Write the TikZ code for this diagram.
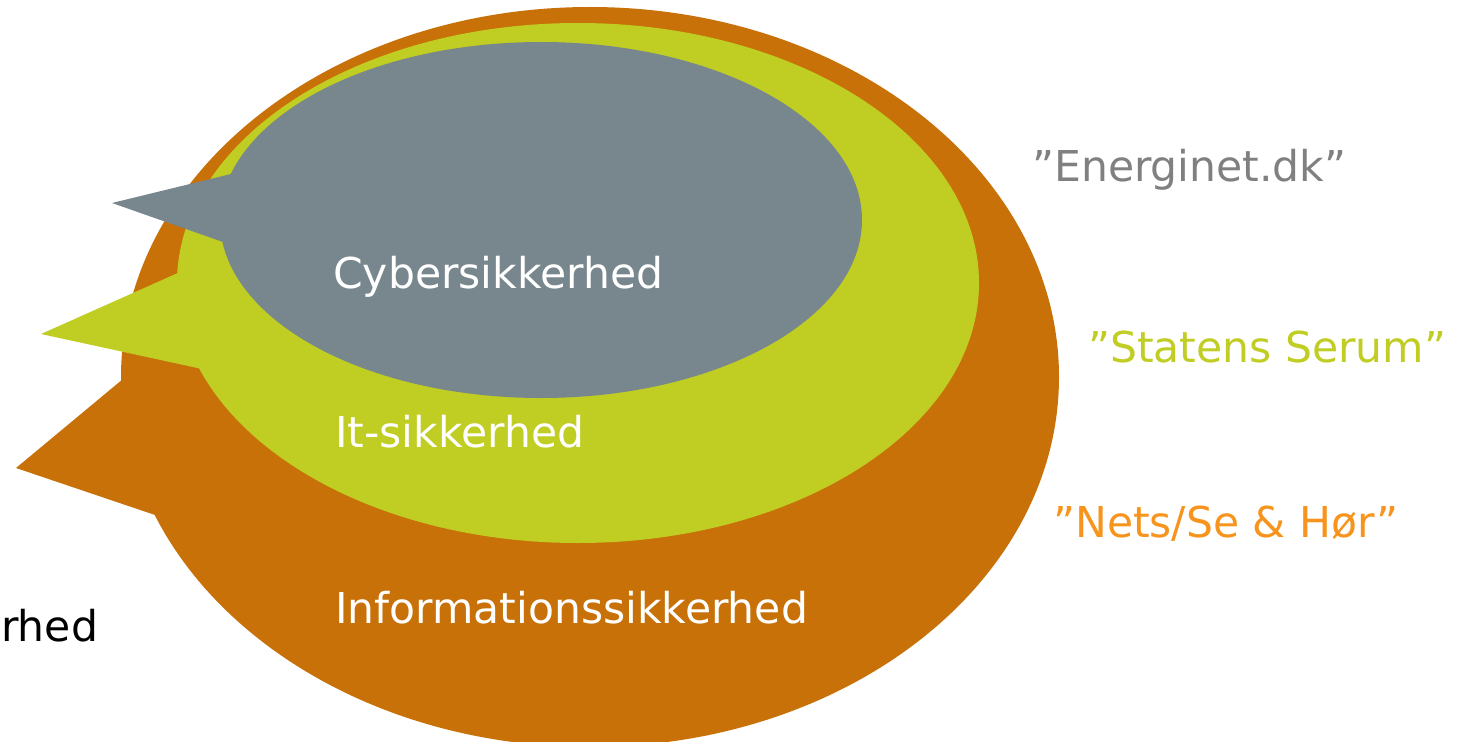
\documentclass[tikz,border=0pt]{standalone}
\usepackage{fontspec}
\setmainfont{DejaVu Sans}
\definecolor{infoorange}{RGB}{200,113,8}
\definecolor{itgreen}{RGB}{192,205,34}
\definecolor{cybergray}{RGB}{120,135,141}
\definecolor{quotegray}{RGB}{128,128,128}
\definecolor{quoteorange}{RGB}{247,148,29}
\begin{document}
\begin{tikzpicture}[x=1pt, y=-1pt,
  every node/.style = {inner sep=0pt, anchor=base west,
    font=\fontsize{42.5}{50}\selectfont},
  inlabel/.style = {text=white},
  sidelabel/.style = {text=#1}]
  \useasboundingbox (0,0) rectangle (1463,741);
  % outer bubble
  \fill[infoorange] (590,377) ellipse [x radius=469pt, y radius=370pt];
  \fill[infoorange] (123,379) -- (16,468) -- (158,516) -- (300,440) -- cycle;
  % middle bubble
  \fill[itgreen] (578,283) ellipse [x radius=401pt, y radius=260pt];
  \fill[itgreen] (180,272) -- (41,334) -- (202,369) -- (320,320) -- cycle;
  % inner bubble
  \fill[cybergray] (541,220) ellipse [x radius=321pt, y radius=178pt];
  \fill[cybergray] (231,174) -- (112,203) -- (223,242) -- (320,210) -- cycle;

  \node[inlabel] (cyber) at (333,288) {Cybersikkerhed};
  \node[inlabel] (it) at (335,447) {It-sikkerhed};
  \node[inlabel] (info) at (335,623) {Informationssikkerhed};

  \node[sidelabel=quotegray] (energinet) at (1032,181) {”Energinet.dk”};
  \node[sidelabel=itgreen] (serum) at (1088,362) {”Statens Serum”};
  \node[sidelabel=quoteorange] (nets) at (1053,537) {”Nets/Se \& Hør”};
  \node (cut) at (1,641) {rhed};
\end{tikzpicture}
\end{document}
